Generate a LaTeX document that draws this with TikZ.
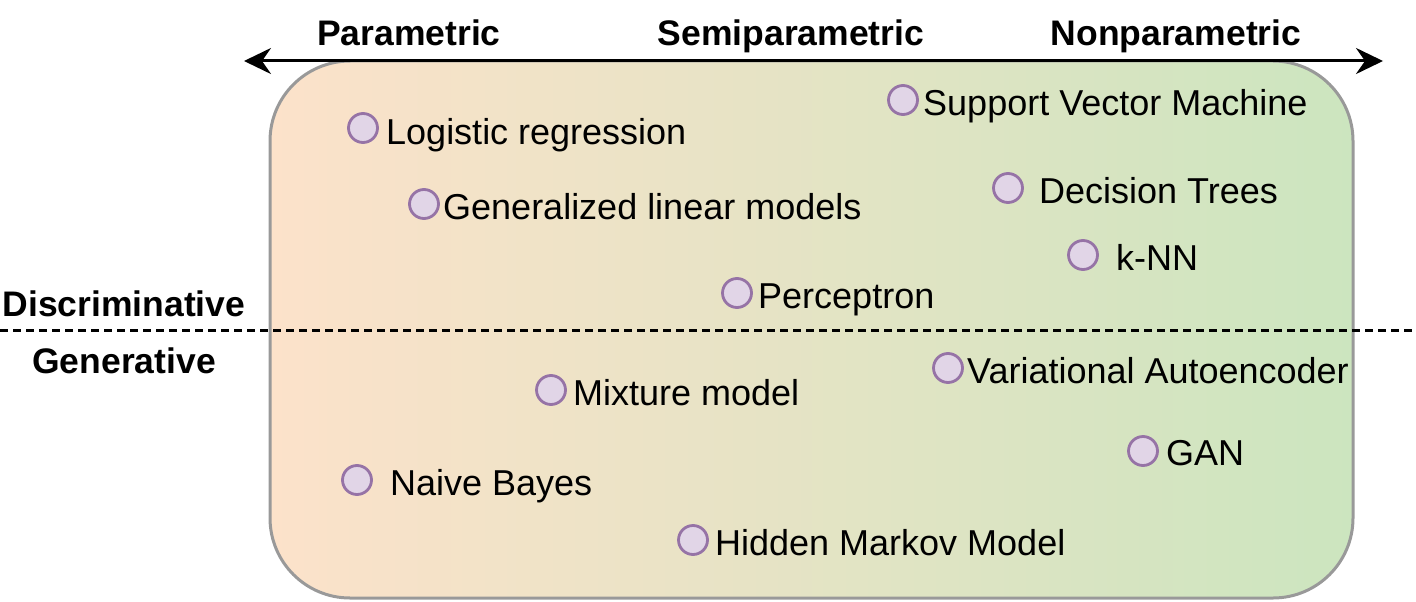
\documentclass[tikz,border=0pt]{standalone}
\usepackage{fontspec}
\setmainfont{Liberation Sans}
\usetikzlibrary{arrows.meta}
\definecolor{peach}{HTML}{FCE2CA}
\definecolor{leaf}{HTML}{CCE5BF}
\definecolor{boxline}{HTML}{999999}
\definecolor{dotfill}{HTML}{E1D5E7}
\definecolor{dotline}{HTML}{9673A6}
\tikzset{
  dot/.style={circle, draw=dotline, fill=dotfill, line width=2.8pt, minimum size=29pt, inner sep=0pt},
  lbl/.style={anchor=base west, inner sep=0pt, font=\fontsize{36}{40}\selectfont},
  head/.style={anchor=base, inner sep=0pt, font=\fontsize{35.5}{40}\selectfont\bfseries},
}
\begin{document}
\begin{tikzpicture}[x=1pt,y=-1pt]
\useasboundingbox (0,0) rectangle (1416,602);
% main box
\path[draw=boxline, line width=3pt, rounded corners=80pt, left color=peach, right color=leaf]
  (270,61) rectangle (1353,598);
% axis arrow
\coordinate (aL) at (244,61);
\coordinate (aR) at (1383,61);
\draw[line width=3pt, {Stealth[length=27pt,width=26pt,inset=9pt]}-{Stealth[length=27pt,width=26pt,inset=9pt]}] (aL) -- (aR);
% dashed divider
\coordinate (dL) at (0,330);
\coordinate (dR) at (1416,330);
\draw[line width=3pt, dash pattern=on 8pt off 5pt] (dL) -- (dR);
% headings
\node[head] (par) at (409,46) {Parametric};
\node[head] (semi) at (791,46) {Semiparametric};
\node[head] (nonpar) at (1176,46) {Nonparametric};
\node[head] (disc) at (124,316) {Discriminative};
\node[head] (gen) at (124,373) {Generative};
% items
\node[dot] (c1) at (363,128) {};
\node[lbl] (t1) at (386,144) {Logistic regression};
\node[dot] (c2) at (424,204) {};
\node[lbl] (t2) at (443,219) {Generalized linear models};
\node[dot] (c3) at (903,100) {};
\node[lbl] (t3) at (923,115) {Support Vector Machine};
\node[dot] (c4) at (1008,188) {};
\node[lbl] (t4) at (1039,203) {Decision Trees};
\node[dot] (c5) at (1083,255) {};
\node[lbl] (t5) at (1116,270) {k-NN};
\node[dot] (c6) at (737,293) {};
\node[lbl] (t6) at (758,308) {Perceptron};
\node[dot] (c7) at (948,368) {};
\node[lbl] (t7) at (967,383) {Variational Autoencoder};
\node[dot] (c8) at (551,390) {};
\node[lbl] (t8) at (573,405) {Mixture model};
\node[dot] (c9) at (1143,451) {};
\node[lbl] (t9) at (1166,465) {GAN};
\node[dot] (c10) at (357,480) {};
\node[lbl] (t10) at (390,495) {Naive Bayes};
\node[dot] (c11) at (693,540) {};
\node[lbl] (t11) at (715,555) {Hidden Markov Model};
\end{tikzpicture}
\end{document}
